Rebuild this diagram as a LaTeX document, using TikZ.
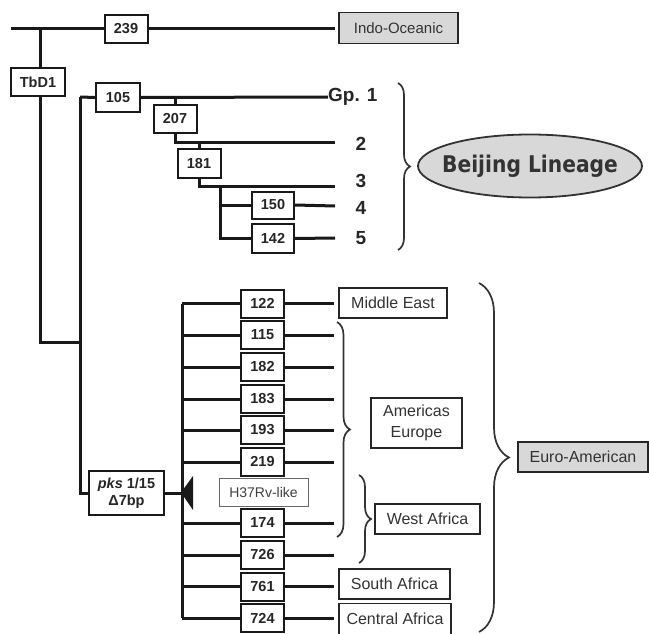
\documentclass[tikz,border=0pt]{standalone}
\usepackage{fontspec}
\setmainfont{Liberation Sans}
\newfontfamily\verd[FakeStretch=0.88]{DejaVu Sans}
\usetikzlibrary{decorations.pathreplacing,shapes.geometric}
\definecolor{labc}{HTML}{333333}
\definecolor{fillg}{HTML}{D8D8D8}
\begin{document}
\begin{tikzpicture}[x=1pt,y=-1pt,
  tree/.style={line width=3pt, draw=black!90},
  num/.style={draw=black!90, line width=2pt, fill=white, minimum width=43pt, minimum height=28pt, inner sep=0pt, font=\fontsize{14.5}{15}\selectfont\bfseries, text=black!85},
  labbox/.style={draw=black!85, line width=1.8pt, fill=white, inner sep=0pt, font=\fontsize{16}{18}\selectfont, text=labc, minimum height=30pt, align=center},
  gplab/.style={inner sep=0pt, font=\fontsize{19}{20}\selectfont\bfseries, text=black!85},
  brc/.style={decorate, decoration={brace, amplitude=#1}, line width=1.7pt, draw=black!80},
]
\useasboundingbox (0,0) rectangle (649,634);

% ---------- top part ----------
\node[num] (n239) at (126,29) {239};
\node[labbox, fill=fillg, minimum width=119pt, minimum height=31pt, font=\fontsize{15}{16}\selectfont] (indo) at (398.5,28) {Indo-Oceanic};
\node[num, minimum width=54pt] (tbd1) at (38,82) {TbD1};
\coordinate (root) at (11,29);
\coordinate (a1) at (40,29);
\coordinate (a2) at (40,342);
\coordinate (a3) at (80,342);
\coordinate (indoL) at (335,29);
\draw[tree] (root) -- (n239.west);
\draw[tree] (n239.east) -- (indoL);
\draw[tree] (a1) -- (a1 |- tbd1.north);
\draw[tree] (a1 |- tbd1.south) -- (a2) -- (a3);

% ---------- Beijing ----------
\node[num, minimum width=44pt, minimum height=29pt] (n105) at (118,97.5) {105};
\node[gplab, anchor=west] (gp1) at (328,97) {Gp. 1};
\coordinate (b0) at (80,97);
\coordinate (b1) at (80,493);
\draw[tree] (b0) -- (n105.west);
\draw[tree] (n105.east) -- (gp1.west);

\node[num] (n207) at (175,119) {207};
\coordinate (c2) at (335,143);
\draw[tree] (n207.north) -- (n207.north |- n105.east);
\draw[tree] (n207.south) |- (c2);
\node[gplab] (l2) at (361,144) {2};

\node[num, minimum height=29pt] (n181) at (199,163.5) {181};
\coordinate (c3) at (335,186);
\draw[tree] (n181.north) -- (n181.north |- c2);
\draw[tree] (n181.south) |- (c3);
\node[gplab] (l3) at (361,181) {3};

\node[num, minimum width=42pt, minimum height=27pt] (n150) at (273,205) {150};
\node[num, minimum width=42pt, minimum height=29pt] (n142) at (273,238.5) {142};
\coordinate (d0) at (220,186);
\coordinate (c4) at (335,206);
\coordinate (c5) at (335,238);
\draw[tree] (d0) |- (n142.west);
\draw[tree] (d0 |- n150.west) -- (n150.west);
\draw[tree] (n150.east) -- (c4);
\draw[tree] (n142.east) -- (c5);
\node[gplab] (l4) at (361,208) {4};
\node[gplab] (l5) at (361,238) {5};

\draw[brc=12] (398,83) -- (398,250);
\node[ellipse, draw=black!80, line width=1.8pt, fill=fillg, minimum width=224pt, minimum height=63pt, inner sep=0pt] (bj) at (530,166) {};
\node[inner sep=0pt, font=\verd\fontsize{23}{24}\selectfont\bfseries, text=black!80] (bjt) at (bj.center) {Beijing Lineage};

% ---------- Euro-American ----------
\node[num, minimum width=75pt, minimum height=44pt, align=center, font=\fontsize{14.5}{17}\selectfont\bfseries] (pks) at (126.5,493) {\textit{pks} 1/15\\Δ7bp};
\draw[tree] (b0) -- (b1) -- (pks.west);

\foreach \i/\lab/\y in {1/122/303.5, 2/115/335, 3/182/367, 4/183/399, 5/193/430, 6/219/462, 7/174/523, 8/726/555, 9/761/586.5, 10/724/618} {
  \coordinate (L\i) at (182,\y);
  \coordinate (R\i) at (334,\y);
  \node[num] (r\i) at (262.5,\y) {\lab};
  \draw[tree] (L\i) -- (r\i.west);
  \draw[tree] (r\i.east) -- (R\i);
}
\draw[tree] (L1) -- (L10);
\coordinate (pj) at (182,493);
\draw[tree] (pks.east) -- (pj);
\fill[black!90] (181,492.5) -- (193,476) -- (193,510) -- cycle;

\node[draw=black!60, line width=1pt, fill=white, minimum width=89pt, minimum height=28pt, inner sep=0pt,
  font=\fontsize{14}{15}\selectfont, text=black!75] (h37) at (263.5,492) {H37Rv-like};

\node[labbox, minimum width=108pt] (me) at (393,303) {Middle East};
\node[labbox, minimum width=91pt, minimum height=50pt, font=\fontsize{16}{21}\selectfont] (ae) at (416.5,423) {Americas\\Europe};
\node[labbox, minimum width=105pt] (wa) at (427.5,519) {West Africa};
\node[labbox, minimum width=111pt] (sa) at (394.5,584) {South Africa};
\node[labbox, minimum width=112pt, minimum height=31pt] (ca) at (395,619) {Central Africa};
\node[labbox, fill=fillg, minimum width=130pt] (ea) at (583,457) {Euro-American};

\draw[brc=13] (337,322) -- (337,537);
\draw[brc=12] (359,475) -- (359,563);
\draw[brc=30] (479,283) -- (479,632);
\end{tikzpicture}
\end{document}
